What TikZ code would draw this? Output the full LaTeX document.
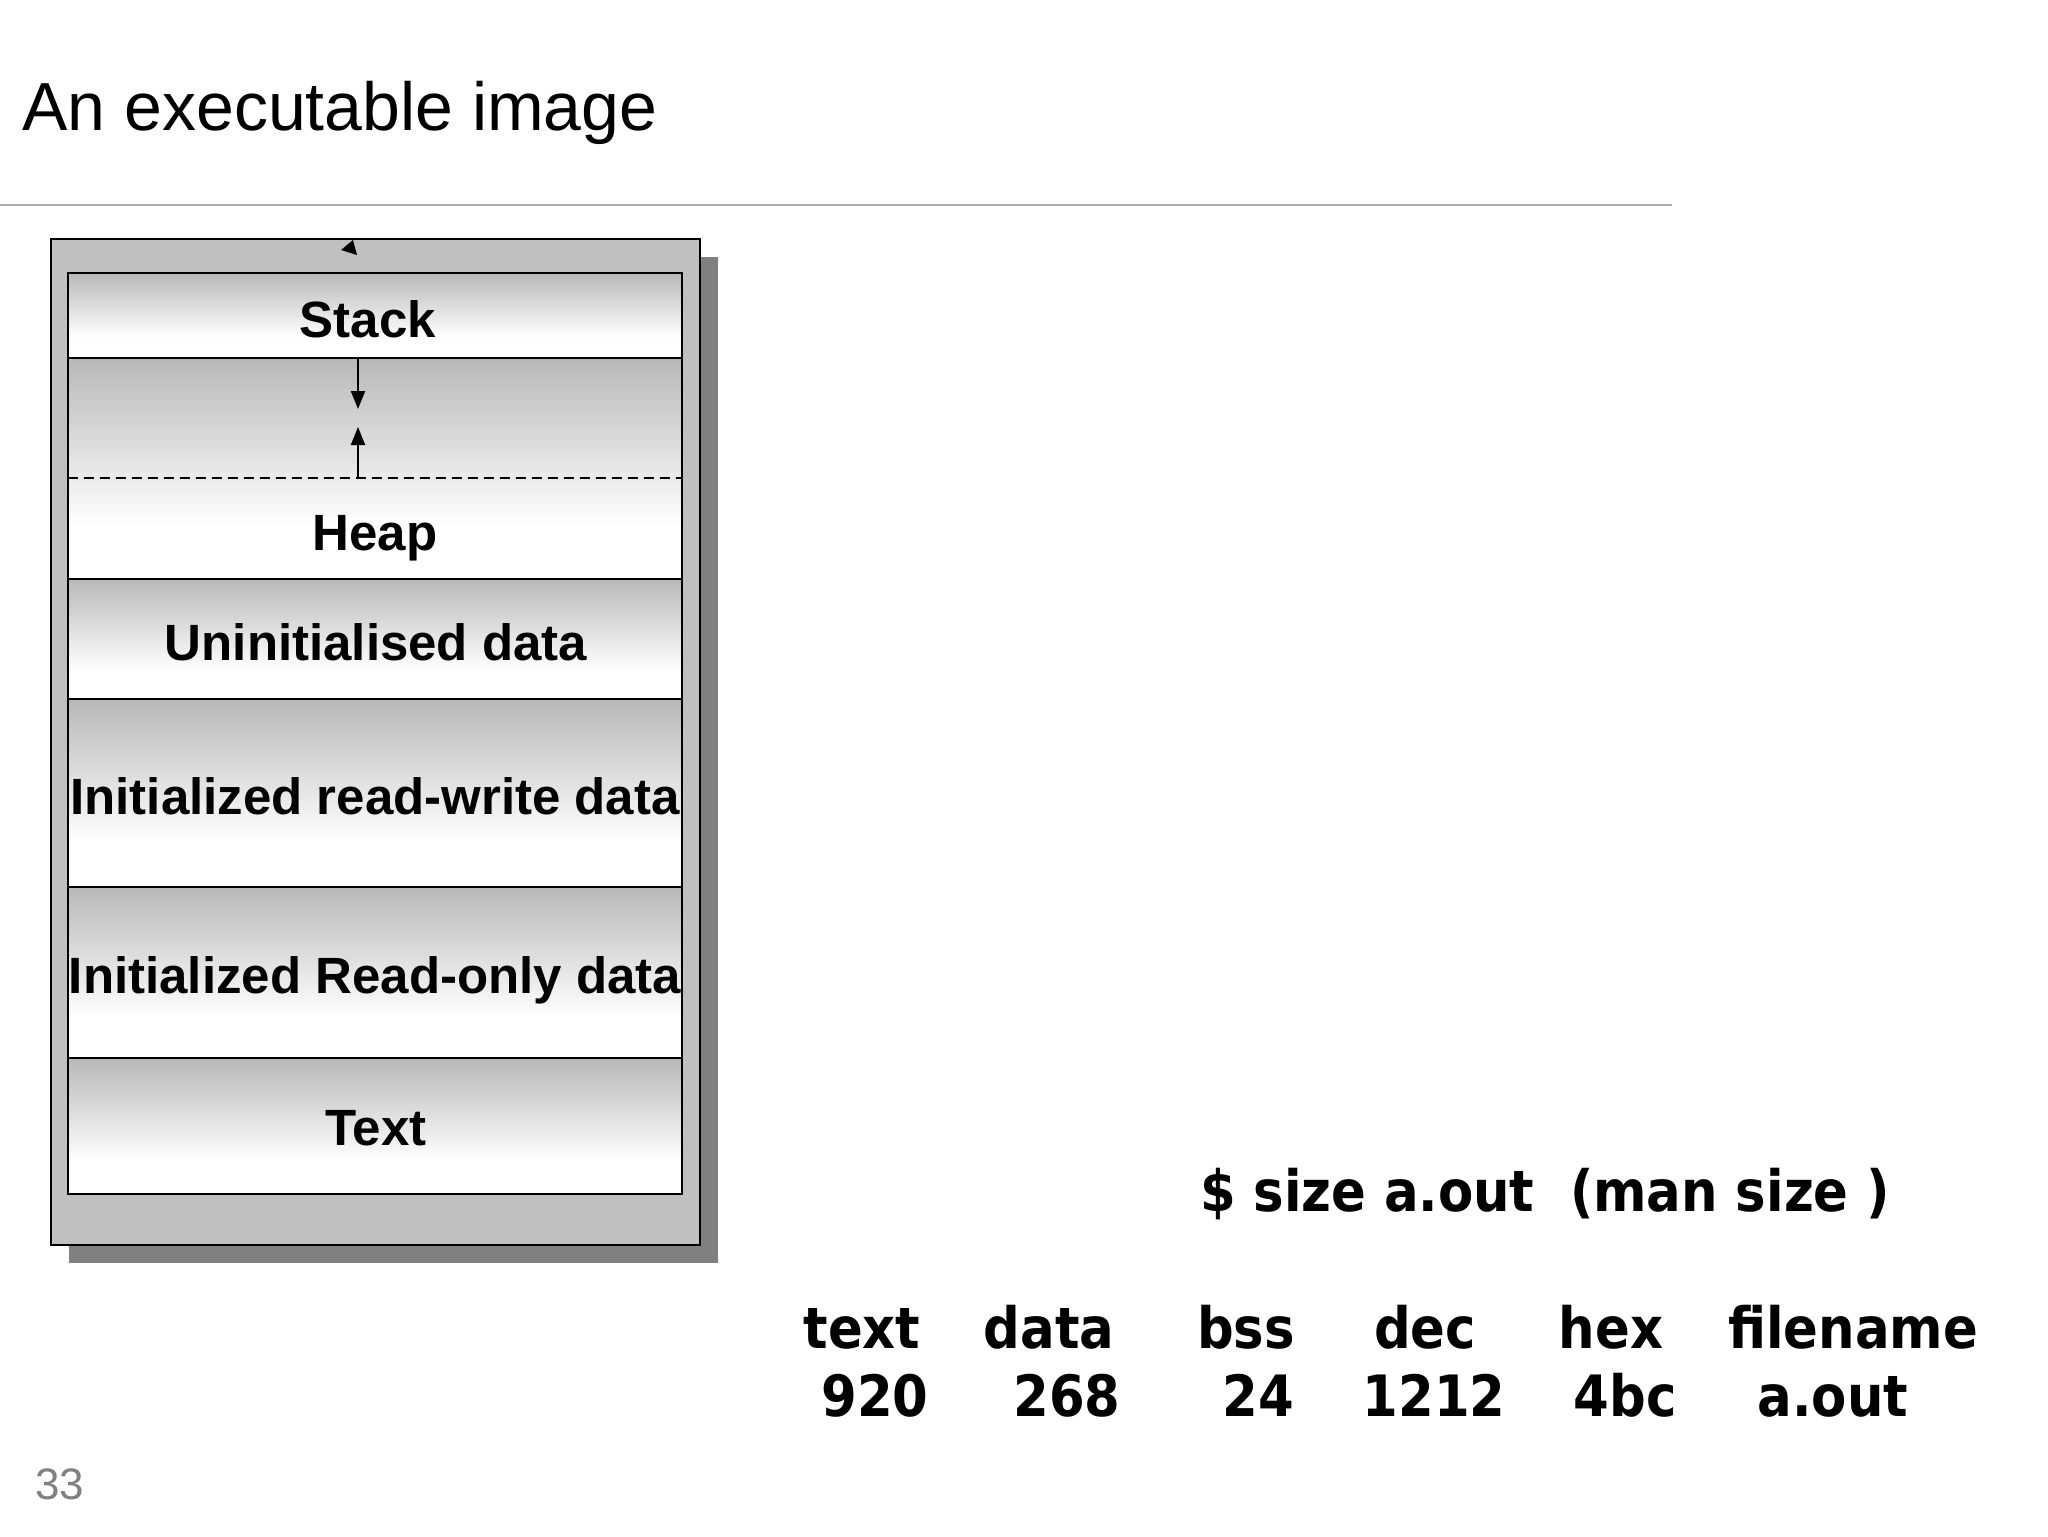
\documentclass[tikz,border=0pt]{standalone}
\usepackage{fontspec}
\setmainfont{Liberation Sans}
\newfontfamily\condb{DejaVu Sans Condensed Bold}
\usetikzlibrary{arrows.meta}
\definecolor{segtop}{RGB}{184,184,184}
\definecolor{outerfill}{RGB}{192,192,192}
\definecolor{shadowc}{RGB}{128,128,128}
\definecolor{rulec}{RGB}{170,170,170}
\definecolor{pagenum}{RGB}{128,128,128}
\pgfdeclareverticalshading{segshade}{100bp}{color(0bp)=(white); color(25bp)=(white); color(37bp)=(white); color(75bp)=(segtop); color(100bp)=(segtop)}
\tikzset{
  seg/.style={draw=black, line width=1pt, shading=segshade},
  seglabel/.style={anchor=base, font=\fontsize{25.5}{30}\selectfont\bfseries, inner sep=0pt},
  cmdtext/.style={anchor=base, font=\condb\fontsize{28.5}{34}\selectfont, inner sep=0pt},
  growarrow/.style={line width=1pt, -{Triangle[length=9pt,width=7pt]}},
}
\begin{document}
\begin{tikzpicture}[x=0.5pt,y=-0.5pt]
\useasboundingbox (0,0) rectangle (2048,1536);
% title and rule
\node[anchor=base west, inner sep=0pt, font=\fontsize{34}{40}\selectfont] (title) at (22,131) {An executable image};
\draw[rulec, line width=1pt] (0,205) -- (1672,205);
% outer box with shadow
\fill[shadowc] (69,257) rectangle (718,1263);
\draw[fill=outerfill, line width=1pt] (51,239) rectangle (700,1245);
\fill[black] (341,250) -- (353,240) -- (357,255) -- cycle;
% segments
\draw[seg] (68,273) rectangle (682,358);
\draw[seg] (68,358) rectangle (682,579);
\draw[seg] (68,579) rectangle (682,699);
\draw[seg] (68,699) rectangle (682,887);
\draw[seg] (68,887) rectangle (682,1058);
\draw[seg] (68,1058) rectangle (682,1194);
\draw[line width=1pt, dash pattern=on 5pt off 3pt] (68,478) -- (682,478);
% growth arrows
\coordinate (dtop) at (358,358);
\coordinate (dend) at (358,409);
\coordinate (utop) at (358,478);
\coordinate (uend) at (358,427);
\draw[growarrow] (dtop) -- (dend);
\draw[growarrow] (utop) -- (uend);
% labels
\node[seglabel] (stack) at (368,337) {Stack};
\node[seglabel] (heap) at (375,550) {Heap};
\node[seglabel] (bss) at (376,660) {Uninitialised data};
\node[seglabel] (rw) at (375,814) {Initialized read-write data};
\node[seglabel] (ro) at (375,993) {Initialized Read-only data};
\node[seglabel] (txt) at (376,1145) {Text};
% command output
\node[cmdtext] (cmd) at (1545,1211) {\$ size a.out\ \ (man size )};
\node[cmdtext] (h1) at (862,1348) {text};
\node[cmdtext] (h2) at (1049,1348) {data};
\node[cmdtext] (h3) at (1246,1348) {bss};
\node[cmdtext] (h4) at (1425,1348) {dec};
\node[cmdtext] (h5) at (1611,1348) {hex};
\node[cmdtext] (h6) at (1853,1348) {filename};
\node[cmdtext] (v1) at (875,1416) {920};
\node[cmdtext] (v2) at (1067,1416) {268};
\node[cmdtext] (v3) at (1258,1416) {24};
\node[cmdtext] (v4) at (1434,1416) {1212};
\node[cmdtext] (v5) at (1625,1416) {4bc};
\node[cmdtext] (v6) at (1833,1416) {a.out};
% page number
\node[anchor=base west, inner sep=0pt, text=pagenum, font=\fontsize{22}{26}\selectfont] (pg) at (35,1499) {33};
\end{tikzpicture}
\end{document}
